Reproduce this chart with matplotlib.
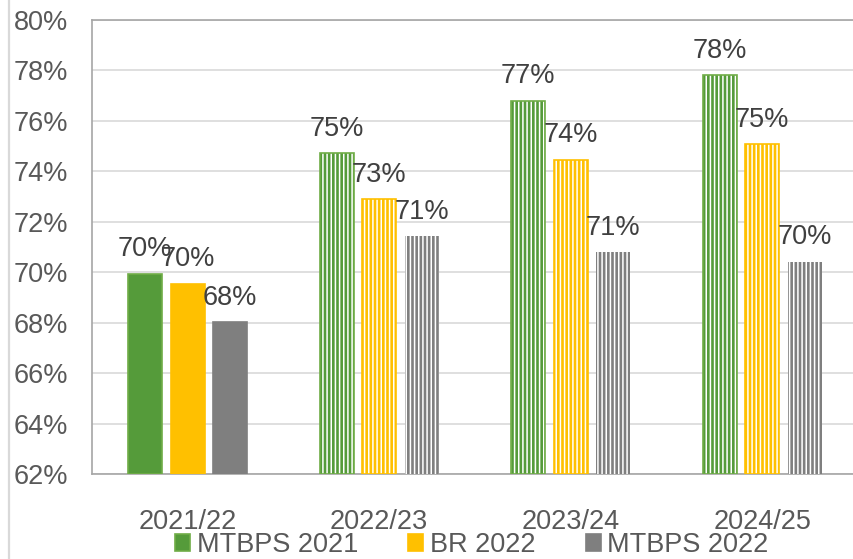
import matplotlib
matplotlib.use("Agg")
import matplotlib.pyplot as plt
from matplotlib.patches import Patch
from matplotlib.lines import Line2D
import numpy as np

# Daten
categories = ["2021/22", "2022/23", "2023/24", "2024/25"]
series_names = ["MTBPS 2021", "BR 2022", "MTBPS 2022"]
mtbps_2021 = [69.94, 74.73, 76.80, 77.82]
br_2022 = [69.55, 72.90, 74.46, 75.08]
mtbps_2022 = [68.02, 71.42, 70.80, 70.42]
y_ticks = [62, 64, 66, 68, 70, 72, 74, 76, 78, 80]

fill_colors = ["#559B3A", "#FFC000", "#7F7F7F"]
border_colors = ["#70AD47", "#FFC000", None]

plt.rcParams['font.family'] = ['Liberation Sans', 'DejaVu Sans']
plt.rcParams['hatch.linewidth'] = 1.1
FS = 19.5

fig = plt.figure(figsize=(8.54, 5.59), dpi=100)
ax = fig.add_axes([92 / 854, 85 / 559, 766 / 854, 454 / 559])

x = np.arange(len(categories))
width = 0.178
step = 0.222
all_series = [mtbps_2021, br_2022, mtbps_2022]

for k, vals in enumerate(all_series):
    pos = x + (k - 1) * step
    base = y_ticks[0]
    heights = [v - base for v in vals]
    # erste Kategorie voll, die restlichen schraffiert
    ax.bar(pos[:1], heights[:1], width, bottom=base, color=fill_colors[k],
           edgecolor=border_colors[k] or fill_colors[k], linewidth=1.2, zorder=3)
    ax.bar(pos[1:], heights[1:], width, bottom=base, facecolor=fill_colors[k],
           edgecolor="white", hatch="||||", linewidth=0, zorder=3)
    if border_colors[k]:
        ax.bar(pos[1:], heights[1:], width, bottom=base, fill=False,
               edgecolor=border_colors[k], linewidth=1.2, zorder=4)
    for px, v in zip(pos, vals):
        ax.annotate(f"{v:.0f}%", (px, v), xytext=(0, 12.5), textcoords="offset points",
                    ha="center", va="baseline", fontsize=FS, color="#404040", zorder=5)

ax.set_xlim(-0.5, 3.5)
ax.set_ylim(62, 80)
ax.set_yticks(y_ticks)
ax.set_yticklabels([f"{t}%" for t in y_ticks])
ax.set_xticks(x)
ax.set_xticklabels(categories)
ax.tick_params(axis="y", length=0, pad=17, labelsize=FS, labelcolor="#595959")
ax.tick_params(axis="x", length=0, pad=25.5, labelsize=FS, labelcolor="#595959")
ax.grid(axis="y", color="#D9D9D9", linewidth=1.2, zorder=0)
ax.set_axisbelow(True)
for s in ax.spines.values():
    s.set_color("#A6A6A6")
    s.set_linewidth(1.2)

# Rahmenlinie links
fig.add_artist(Line2D([8.5 / 854, 8.5 / 854], [0, 1], color="#D9D9D9", linewidth=1.6))

handles = [Patch(facecolor=fill_colors[i], edgecolor=border_colors[i] or fill_colors[i],
                 linewidth=1.2) for i in range(3)]
fig.legend(handles, series_names, loc="center", bbox_to_anchor=(472 / 854, 14 / 559),
           ncol=3, frameon=False, fontsize=FS, labelcolor="#595959",
           handlelength=0.55, handleheight=0.55, handletextpad=0.25, columnspacing=1.85,
           borderpad=0, borderaxespad=0)

fig.savefig("out.png", dpi=100)
